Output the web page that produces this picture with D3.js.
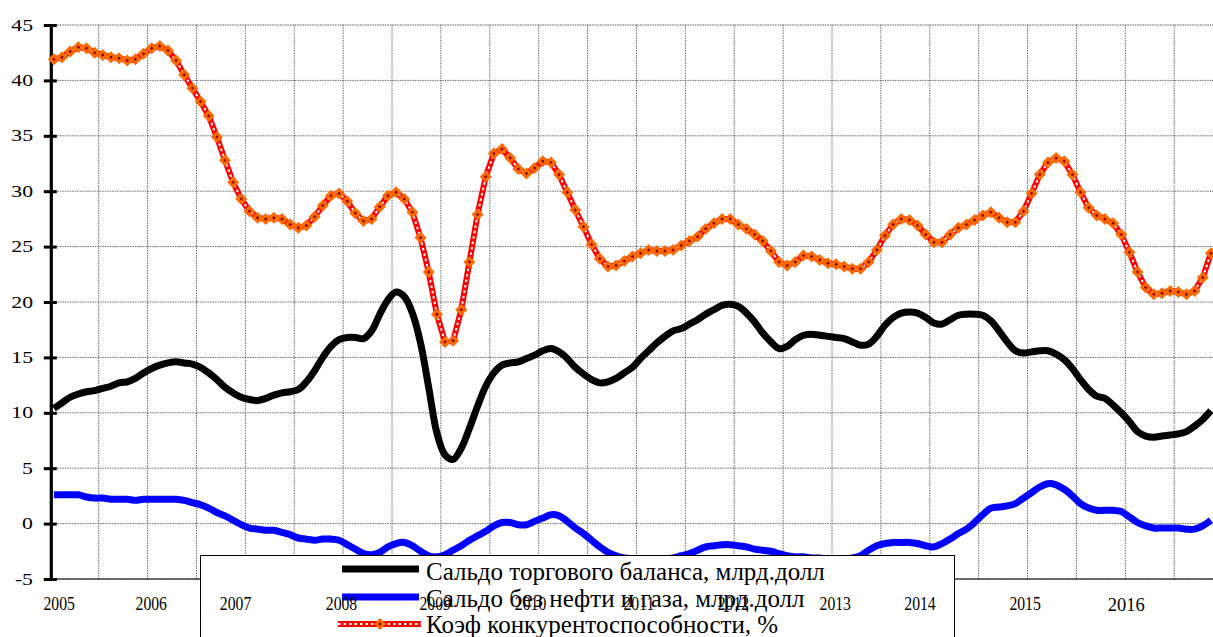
<!DOCTYPE html>
<html>
<head>
<meta charset="utf-8">
<script src="https://cdn.jsdelivr.net/npm/d3@7"></script>
<style>
  html, body { margin: 0; padding: 0; background: #fff; overflow: hidden; }
  svg { display: block; }
</style>
</head>
<body>
<svg id="chart" width="1213" height="637"></svg>
<script>
// ---------------- DATA ----------------
const years = [2005, 2006, 2007, 2008, 2009, 2010, 2011, 2012, 2013, 2014, 2015, 2016];
// monthly categories Jan 2005 .. Nov 2016 (143 points)
const categories = [];
years.forEach(y => { for (let m = 1; m <= 12; m++) categories.push(y + "-" + String(m).padStart(2, "0")); });
categories.length = 143;

const seriesNames = [
  "Сальдо торгового баланса, млрд.долл",
  "Сальдо без нефти и газа, млрд.долл",
  "Коэф конкурентоспособности, %"
];

const tradeBalance = [
  10.4, 10.9, 11.4, 11.7, 11.9, 12.0, 12.2, 12.4, 12.7, 12.8,
  13.1, 13.6, 14.0, 14.3, 14.5, 14.6, 14.5, 14.4, 14.1, 13.6,
  13.0, 12.3, 11.8, 11.4, 11.2, 11.1, 11.3, 11.6, 11.8, 11.9,
  12.1, 12.8, 13.8, 15.0, 16.0, 16.6, 16.8, 16.8, 16.7, 17.4,
  18.9, 20.2, 20.9, 20.5, 19.0, 16.3, 12.3, 8.2, 6.2, 5.8,
  6.8, 8.6, 10.6, 12.4, 13.6, 14.3, 14.5, 14.6, 14.9, 15.2,
  15.6, 15.8, 15.5, 14.9, 14.1, 13.5, 13.0, 12.7, 12.8, 13.1,
  13.6, 14.1, 14.9, 15.6, 16.3, 16.9, 17.4, 17.6, 18.0, 18.4,
  18.9, 19.3, 19.7, 19.8, 19.6, 19.0, 18.2, 17.2, 16.4, 15.8,
  16.0, 16.6, 17.0, 17.1, 17.0, 16.9, 16.8, 16.7, 16.4, 16.1,
  16.2, 16.9, 17.9, 18.6, 19.0, 19.1, 19.0, 18.6, 18.1, 18.0,
  18.4, 18.8, 18.9, 18.9, 18.8, 18.3, 17.4, 16.4, 15.6, 15.4,
  15.5, 15.6, 15.6, 15.3, 14.8, 14.0, 13.0, 12.1, 11.5, 11.3,
  10.7, 10.0, 9.2, 8.3, 7.9, 7.8, 7.9, 8.0, 8.1, 8.3,
  8.8, 9.4, 10.2
];

const nonOilBalance = [
  2.6, 2.6, 2.6, 2.6, 2.4, 2.3, 2.3, 2.2, 2.2, 2.2,
  2.1, 2.2, 2.2, 2.2, 2.2, 2.2, 2.1, 1.9, 1.7, 1.4,
  1.0, 0.7, 0.3, -0.1, -0.4, -0.5, -0.6, -0.6, -0.8, -1.0,
  -1.3, -1.4, -1.5, -1.4, -1.4, -1.5, -1.9, -2.3, -2.7, -2.8,
  -2.6, -2.1, -1.8, -1.7, -2.0, -2.5, -2.9, -3.0, -2.8, -2.4,
  -2.0, -1.5, -1.1, -0.7, -0.2, 0.1, 0.1, -0.1, -0.1, 0.2,
  0.5, 0.8, 0.7, 0.2, -0.4, -0.9, -1.5, -2.1, -2.6, -2.9,
  -3.1, -3.2, -3.3, -3.3, -3.3, -3.2, -3.1, -2.9, -2.7, -2.4,
  -2.1, -2.0, -1.9, -1.9, -2.0, -2.1, -2.3, -2.4, -2.5, -2.7,
  -2.9, -3.0, -3.0, -3.1, -3.1, -3.2, -3.2, -3.2, -3.1, -2.9,
  -2.4, -2.0, -1.8, -1.7, -1.7, -1.7, -1.8, -2.0, -2.1, -1.8,
  -1.4, -0.9, -0.5, 0.1, 0.8, 1.4, 1.5, 1.6, 1.8, 2.3,
  2.8, 3.3, 3.6, 3.5, 3.1, 2.5, 1.8, 1.4, 1.2, 1.2,
  1.2, 1.1, 0.6, 0.1, -0.2, -0.4, -0.4, -0.4, -0.4, -0.5,
  -0.5, -0.2, 0.3
];

const competitiveness = [
  41.9, 42.1, 42.6, 43.0, 42.9, 42.5, 42.3, 42.1, 42.0, 41.8,
  41.9, 42.4, 42.9, 43.1, 42.7, 41.8, 40.5, 39.3, 38.1, 36.8,
  34.9, 32.8, 30.8, 29.3, 28.2, 27.6, 27.5, 27.6, 27.5, 27.0,
  26.7, 26.9, 27.7, 28.7, 29.6, 29.8, 29.1, 28.0, 27.3, 27.5,
  28.6, 29.6, 29.9, 29.3, 28.1, 25.8, 22.7, 18.9, 16.4, 16.5,
  19.3, 23.6, 27.9, 31.3, 33.4, 33.8, 33.0, 32.0, 31.6, 32.1,
  32.7, 32.6, 31.5, 29.9, 28.3, 26.8, 25.2, 23.9, 23.2, 23.3,
  23.7, 24.1, 24.4, 24.7, 24.6, 24.6, 24.7, 25.1, 25.5, 25.9,
  26.6, 27.1, 27.5, 27.5, 27.0, 26.6, 26.1, 25.5, 24.6, 23.6,
  23.3, 23.6, 24.2, 24.1, 23.8, 23.5, 23.4, 23.2, 23.0, 23.0,
  23.6, 24.7, 26.0, 27.0, 27.5, 27.4, 26.9, 26.1, 25.4, 25.4,
  26.1, 26.7, 27.0, 27.4, 27.8, 28.1, 27.6, 27.2, 27.2, 28.2,
  29.8, 31.5, 32.6, 33.0, 32.7, 31.5, 29.9, 28.5, 27.8, 27.5,
  27.1, 26.1, 24.5, 22.7, 21.3, 20.7, 20.8, 21.0, 20.9, 20.7,
  21.0, 22.2, 24.4
];

const yTicks = [-5, 0, 5, 10, 15, 20, 25, 30, 35, 40, 45];
const yearLabels = ["2005", "2006", "2007", "2008", "2009", "2010", "2011", "2012", "2013", "2014", "2015", "2016"];
// month index (category position) at which each year label sits in the original
const yearLabelAt = [0.65, 11.95, 22.3, 35.3, 46.8, 58.5, 71.8, 83.4, 95.9, 106.3, 119.2, 131.6];

// ---------------- DRAWING ----------------
(function draw() {
  const FONT = "'Liberation Serif', 'Times New Roman', 'DejaVu Serif', serif";
  const svg = d3.select("#chart");
  const pLeft = 49.8, catW = 8.148, nCat = 143;
  const pRight = pLeft + nCat * catW;
  const pTop = 25, pBottom = 579;

  const x = d3.scaleLinear().domain([-0.5, nCat - 0.5]).range([pLeft, pRight]);
  const y = d3.scaleLinear().domain([-5, 45]).range([pBottom, pTop]);

  // gridlines
  const grid = svg.append("g");
  grid.selectAll("line.h").data(yTicks).join("line")
    .attr("x1", pLeft).attr("x2", pRight)
    .attr("y1", d => y(d)).attr("y2", d => y(d))
    .attr("stroke", d => d === 45 ? "#555" : "#6a6a6a")
    .attr("stroke-width", 1)
    .attr("stroke-dasharray", "1.5,1");
  const vGrid = d3.range(6, nCat + 6, 6).map(k => k - 0.5);
  grid.selectAll("line.v").data(vGrid).join("line")
    .attr("x1", d => x(d)).attr("x2", d => x(d))
    .attr("y1", pTop).attr("y2", pBottom)
    .attr("stroke", "#6a6a6a")
    .attr("stroke-width", 1)
    .attr("stroke-dasharray", "1.5,1");

  // x-axis line
  svg.append("line").attr("x1", pLeft).attr("x2", pRight)
    .attr("y1", pBottom).attr("y2", pBottom)
    .attr("stroke", "#000").attr("stroke-width", 1);

  // y axis
  const yAxis = d3.axisLeft(y).tickValues(yTicks).tickSize(0).tickFormat("");
  const yg = svg.append("g").attr("transform", `translate(${pLeft + 1},0)`).call(yAxis);
  yg.select(".domain").attr("stroke", "#000").attr("stroke-width", 3.2);
  yg.selectAll(".tick").append("line")
    .attr("x1", -7).attr("x2", 6).attr("y1", 0).attr("y2", 0)
    .attr("stroke", "#000").attr("stroke-width", 3);
  yTicks.forEach(t => {
    svg.append("text")
      .attr("transform", `translate(33,${y(t) + 5.6}) scale(1.36,1)`)
      .attr("text-anchor", "end")
      .attr("font-family", FONT)
      .attr("font-size", 16)
      .attr("fill", "#000")
      .text(t);
  });

  // series
  const smooth = d3.line().x((d, i) => x(i)).y(d => y(d)).curve(d3.curveCatmullRom.alpha(0.5));
  const straight = d3.line().x((d, i) => x(i)).y(d => y(d));

  svg.append("path").datum(tradeBalance).attr("d", smooth)
    .attr("fill", "none").attr("stroke", "#000").attr("stroke-width", 7).attr("stroke-linejoin", "round");
  svg.append("path").datum(nonOilBalance).attr("d", smooth)
    .attr("fill", "none").attr("stroke", "#0000ff").attr("stroke-width", 7).attr("stroke-linejoin", "round");
  svg.append("path").datum(competitiveness).attr("d", straight)
    .attr("fill", "none").attr("stroke", "#ff0000").attr("stroke-width", 6).attr("stroke-linejoin", "round");
  svg.append("path").datum(competitiveness).attr("d", straight)
    .attr("fill", "none").attr("stroke", "#fff").attr("stroke-width", 2).attr("stroke-dasharray", "2.5,3");

  // square diamond markers (rotated squares)
  const diamond = d3.symbol().type(d3.symbolSquare).size(30);
  svg.append("g").selectAll("path").data(competitiveness).join("path")
    .attr("d", diamond)
    .attr("transform", (d, i) => `translate(${x(i)},${y(d)}) rotate(45)`)
    .attr("fill", "#8b0000").attr("stroke", "#ff6a00").attr("stroke-width", 3);

  // legend
  const lg = svg.append("g");
  lg.append("rect").attr("x", 200.5).attr("y", 555.5).attr("width", 754).attr("height", 120)
    .attr("fill", "#fff").attr("stroke", "#000").attr("stroke-width", 1);
  const rowsY = [569, 597, 624];
  const baseY = [580, 607, 633];
  lg.append("line").attr("x1", 342).attr("x2", 419).attr("y1", rowsY[0]).attr("y2", rowsY[0])
    .attr("stroke", "#000").attr("stroke-width", 7);
  lg.append("line").attr("x1", 342).attr("x2", 419).attr("y1", rowsY[1]).attr("y2", rowsY[1])
    .attr("stroke", "#0000ff").attr("stroke-width", 7);
  lg.append("line").attr("x1", 338).attr("x2", 421).attr("y1", rowsY[2]).attr("y2", rowsY[2])
    .attr("stroke", "#ff0000").attr("stroke-width", 6);
  lg.append("line").attr("x1", 338).attr("x2", 421).attr("y1", rowsY[2]).attr("y2", rowsY[2])
    .attr("stroke", "#fff").attr("stroke-width", 2).attr("stroke-dasharray", "2.5,3");
  lg.append("path").attr("d", diamond).attr("transform", `translate(380,${rowsY[2]}) rotate(45)`)
    .attr("fill", "#8b0000").attr("stroke", "#ff6a00").attr("stroke-width", 3);
  seriesNames.forEach((n, i) => {
    lg.append("text").attr("x", 426).attr("y", baseY[i])
      .attr("font-family", FONT).attr("font-size", 25).attr("fill", "#000")
      .text(n);
  });

  // year labels (drawn over the legend, as in the original)
  yearLabels.forEach((lab, i) => {
    const sx = lab === "2016" ? 1 : 0.85;
    svg.append("text")
      .attr("transform", `translate(${x(yearLabelAt[i])},${lab === "2016" ? 611 : 609.5}) scale(${sx},1)`)
      .attr("text-anchor", "middle")
      .attr("font-family", FONT)
      .attr("font-size", 18.5)
      .attr("fill", "#000")
      .text(lab);
  });
})();
</script>
</body>
</html>
